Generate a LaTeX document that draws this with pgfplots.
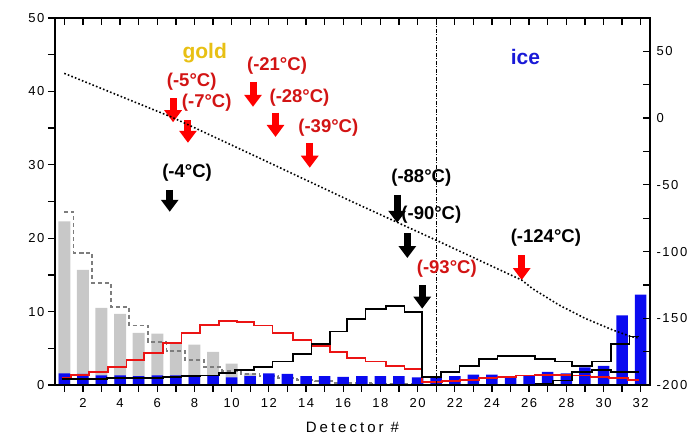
\documentclass[border=0pt]{standalone}
\usepackage{pgfplots}
\pgfplotsset{compat=1.18}
\usepackage{fontspec}
\setmainfont{Liberation Sans}
\newfontfamily\tickfont[LetterSpace=12]{Liberation Sans}
\newfontfamily\labfont[LetterSpace=20]{Liberation Sans}
\usetikzlibrary{arrows.meta}
\definecolor{barblue}{RGB}{10,10,240}
\definecolor{bargray}{RGB}{200,200,200}
\definecolor{lred}{RGB}{235,20,20}
\definecolor{tred}{RGB}{210,20,20}
\definecolor{goldc}{RGB}{232,192,20}
\definecolor{icec}{RGB}{25,25,215}
\definecolor{dgray}{RGB}{125,125,125}
\begin{document}
\begin{tikzpicture}[
  arr/.style={-{Triangle[width=17pt,length=12pt]}, line width=7pt},
  lab/.style={font=\fontsize{18.5}{20}\selectfont\bfseries, inner sep=0pt},
  big/.style={font=\fontsize{21}{22}\selectfont\bfseries, inner sep=0pt}]
\begin{axis}[name=ax,
  scale only axis, width=595pt, height=367pt,
  xmin=0.5, xmax=32.5, ymin=0, ymax=50,
  xtick={2,4,...,32}, minor xtick={1,3,...,31},
  ytick={0,10,...,50}, minor ytick={5,15,...,45},
  xtick pos=left, ytick pos=left, tick align=outside,
  major tick length=7pt, minor tick length=7pt,
  tick style={black, line width=1.3pt},
  axis line style={line width=1.8pt},
  /pgf/number format/assume math mode=true,
  ticklabel style={font=\tickfont\fontsize{13}{13}\selectfont},
  xticklabel style={yshift=-3pt},
  xlabel={Detector \#},
  xlabel style={font=\labfont\fontsize{15}{16}\selectfont, yshift=-8pt},
  clip=false,
]
% gray bars (gold)
\addplot[ybar, bar width=12pt, bar shift=0pt, fill=bargray, draw=none] coordinates {
(1,22.3)(2,15.7)(3,10.5)(4,9.7)(5,7.1)(6,7.0)(7,5.7)(8,5.5)(9,4.5)(10,2.9)(11,1.6)};
% gray dashed step
\addplot[const plot mark mid, dgray, dash pattern=on 4pt off 3pt, line width=1.8pt] coordinates {
(1,23.6)(2,18.0)(3,13.9)(4,10.6)(5,8.1)(6,5.9)(7,4.6)(8,3.4)(9,2.5)(10,1.9)
(11,1.5)(12,1.2)(13,1.0)(14,0.7)(15,0.5)(16,0.3)(17,0.3)(18,0.2)(19,0.2)(20,0.2)};
% blue bars (ice)
\addplot[ybar, bar width=11.5pt, bar shift=0pt, fill=barblue, draw=none] coordinates {
(1,1.6)(2,1.5)(3,1.3)(4,1.3)(5,1.2)(6,1.3)(7,1.3)(8,1.2)(9,1.3)(10,1.05)
(11,1.2)(12,1.6)(13,1.5)(14,1.2)(15,1.2)(16,1.1)(17,1.2)(18,1.2)(19,1.2)(20,1.05)
(21,1.0)(22,1.2)(23,1.4)(24,1.4)(25,1.2)(26,1.3)(27,1.8)(28,1.6)(29,2.4)(30,2.6)
(31,9.5)(32,12.3)};
% red step
\addplot[const plot mark left, lred, line width=1.8pt] coordinates {
(0.85,1.0)(1.35,1.4)(2.35,1.8)(3.35,2.5)(4.35,3.4)(5.3,4.4)(6.3,5.7)(7.3,7.1)(8.3,8.2)(9.3,8.7)
(10.3,8.6)(11.2,8.1)(12.2,7.1)(13.3,6.1)(14.3,5.3)(15.3,4.5)(16.2,3.7)(17.2,3.2)(18.3,2.6)(19.3,2.2)
(20.25,0.4)(21.3,0.5)(22.3,0.7)(23.3,0.9)(24.3,1.1)(25.3,1.3)(26.3,1.4)(27.3,1.4)(28.3,1.3)(29.3,1.1)
(30.3,0.9)(31.3,0.7)(31.9,0.7)};
% black step (main)
\addplot[const plot mark left, black, line width=1.8pt] coordinates {
(0.85,0.8)(2.3,0.8)(3.3,0.9)(4.3,1.0)(5.3,1.0)(6.3,1.1)(7.3,1.2)(8.3,1.3)(9.3,1.6)(10.2,2.0)
(11.2,2.5)(12.2,3.2)(13.3,4.2)(14.3,5.6)(15.3,7.3)(16.2,9.0)(17.2,10.4)(18.3,10.8)(19.3,9.9)
(20.25,1.1)(21.25,1.8)(22.25,2.6)(23.3,3.5)(24.3,4.0)(25.3,4.0)(26.3,3.5)(27.4,3.2)(28.3,2.6)
(29.4,3.2)(30.4,5.6)(31.4,6.6)(31.9,6.6)};
% black step (second, ice region)
\addplot[const plot mark left, black, line width=1.8pt] coordinates {
(26.3,0.1)(27.3,0.6)(28.3,1.8)(29.4,2.0)(30.4,1.8)(31.9,1.8)};
% vertical dash-dot separator
\addplot[black, dash pattern=on 4pt off 1.5pt on 1pt off 1.5pt, line width=1pt] coordinates {(21,0)(21,50)};
% text labels
\node[big, text=goldc] at (axis cs:8.55,45.2) {gold};
\node[big, text=icec] at (axis cs:25.8,44.7) {ice};
\node[lab, text=tred] at (axis cs:7.85,41.3) {(-5°C)};
\node[lab, text=tred] at (axis cs:8.66,38.4) {(-7°C)};
\node[lab, text=tred] at (axis cs:12.44,43.5) {(-21°C)};
\node[lab, text=tred] at (axis cs:13.65,39.2) {(-28°C)};
\node[lab, text=tred] at (axis cs:15.2,35.1) {(-39°C)};
\node[lab, text=black] at (axis cs:7.6,28.9) {(-4°C)};
\node[lab, text=black] at (axis cs:20.2,28.2) {(-88°C)};
\node[lab, text=black] at (axis cs:20.74,23.2) {(-90°C)};
\node[lab, text=tred] at (axis cs:21.57,15.9) {(-93°C)};
\node[lab, text=black] at (axis cs:26.9,20.0) {(-124°C)};
% arrows
\draw[arr, red] (axis cs:6.85,39.1) -- (axis cs:6.85,35.8);
\draw[arr, red] (axis cs:7.65,36.1) -- (axis cs:7.65,33.0);
\draw[arr, red] (axis cs:11.15,41.3) -- (axis cs:11.15,37.9);
\draw[arr, red] (axis cs:12.36,37.1) -- (axis cs:12.36,33.8);
\draw[arr, red] (axis cs:14.2,33.0) -- (axis cs:14.2,29.6);
\draw[arr, black] (axis cs:6.67,26.6) -- (axis cs:6.67,23.6);
\draw[arr, black] (axis cs:18.9,25.9) -- (axis cs:18.9,22.1);
\draw[arr, black] (axis cs:19.45,20.7) -- (axis cs:19.45,17.3);
\draw[arr, black] (axis cs:20.25,13.6) -- (axis cs:20.25,10.4);
\draw[arr, red] (axis cs:25.6,17.7) -- (axis cs:25.6,14.3);
\end{axis}
\begin{axis}[
  scale only axis, width=595pt, height=367pt,
  xmin=0.5, xmax=32.5, ymin=-200, ymax=75,
  xtick={1,2,...,32}, xticklabels={},
  ytick={-200,-150,...,50}, minor ytick={-175,-125,...,25},
  xtick pos=right, ytick pos=right, yticklabel pos=right,
  tick align=inside,
  major tick length=7pt, minor tick length=7pt,
  tick style={black, line width=1.3pt},
  axis line style={line width=1.8pt},
  /pgf/number format/assume math mode=true,
  ticklabel style={font=\tickfont\fontsize{13}{13}\selectfont},
  yticklabel style={xshift=3pt},
]
\addplot[black, dash pattern=on 1.6pt off 2.2pt, line width=1.6pt] coordinates {
(1.0,33.5)(6.8,0.6)(11.5,-30)(16.3,-61.5)(21.0,-91.5)(25.6,-121.4)(26.2,-128)(27.6,-140)
(29.0,-150)(30.5,-158.8)(31.5,-163.8)(31.9,-164.8)};
\end{axis}
\pgfresetboundingbox
\path[use as bounding box] ([shift={(-55pt,-53pt)}]ax.south west) rectangle ([shift={(39pt,18pt)}]ax.north east);
\end{tikzpicture}
\end{document}
